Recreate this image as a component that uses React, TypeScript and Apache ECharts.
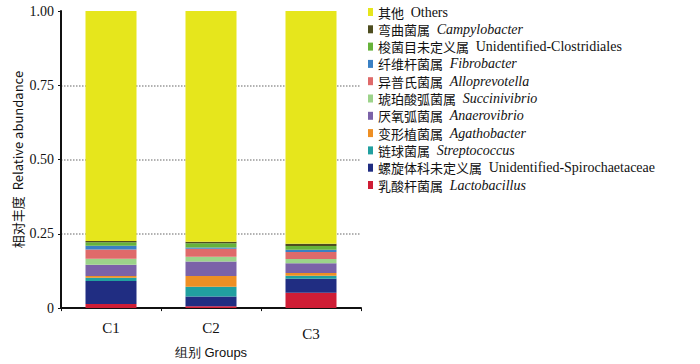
import React, { useEffect, useRef } from "react";
import * as echarts from "echarts";

const groups = ["C1", "C2", "C3"];

// bottom-to-top stacking order
const lactobacillus = [0.014, 0.006, 0.052];
const spirochaetaceae = [0.077, 0.033, 0.047];
const streptococcus = [0.011, 0.033, 0.010];
const agathobacter = [0.006, 0.036, 0.009];
const anaerovibrio = [0.038, 0.049, 0.033];
const succinivibrio = [0.020, 0.016, 0.014];
const alloprevotella = [0.031, 0.027, 0.024];
const fibrobacter = [0.013, 0.004, 0.007];
const clostridiales = [0.012, 0.014, 0.013];
const campylobacter = [0.004, 0.005, 0.008];
const others = [0.774, 0.777, 0.783];

const yTicks = ["0", "0.25", "0.50", "0.75", "1.00"];

type S = { key: string; cn: string; en: string; italic: boolean; color: string; data: number[] };

const seriesDefs: S[] = [
  { key: "Lactobacillus", cn: "乳酸杆菌属", en: "Lactobacillus", italic: true, color: "#cf1d35", data: lactobacillus },
  { key: "Spirochaetaceae", cn: "螺旋体科未定义属", en: "Unidentified-Spirochaetaceae", italic: false, color: "#202d82", data: spirochaetaceae },
  { key: "Streptococcus", cn: "链球菌属", en: "Streptococcus", italic: true, color: "#21a0a0", data: streptococcus },
  { key: "Agathobacter", cn: "变形植菌属", en: "Agathobacter", italic: true, color: "#ee8f24", data: agathobacter },
  { key: "Anaerovibrio", cn: "厌氧弧菌属", en: "Anaerovibrio", italic: true, color: "#7b62a8", data: anaerovibrio },
  { key: "Succinivibrio", cn: "琥珀酸弧菌属", en: "Succinivibrio", italic: true, color: "#9cd38a", data: succinivibrio },
  { key: "Alloprevotella", cn: "异普氏菌属", en: "Alloprevotella", italic: true, color: "#df6a6a", data: alloprevotella },
  { key: "Fibrobacter", cn: "纤维杆菌属", en: "Fibrobacter", italic: true, color: "#3a80c4", data: fibrobacter },
  { key: "Clostridiales", cn: "梭菌目未定义属", en: "Unidentified-Clostridiales", italic: false, color: "#66b33a", data: clostridiales },
  { key: "Campylobacter", cn: "弯曲菌属", en: "Campylobacter", italic: true, color: "#4d4d1f", data: campylobacter },
  { key: "Others", cn: "其他", en: "Others", italic: false, color: "#e6e61c", data: others },
];

const SERIF = "Liberation Serif";
const CJK = "Noto Sans CJK SC";

export default function App() {
  const ref = useRef<HTMLDivElement>(null);
  useEffect(() => {
    if (!ref.current) return;
    const chart = echarts.init(ref.current, null, { renderer: "svg" });
    const byKey: Record<string, S> = {};
    seriesDefs.forEach((s) => (byKey[s.key] = s));
    chart.setOption({
      animation: false,
      backgroundColor: "#ffffff",
      grid: { left: 61, right: 339, top: 11, bottom: 48, containLabel: false },
      legend: {
        orient: "vertical",
        left: 368,
        top: 5,
        padding: 0,
        itemWidth: 5,
        itemHeight: 8,
        itemGap: 3.3,
        icon: "rect",
        selectedMode: false,
        data: seriesDefs.map((s) => s.key).reverse(),
        formatter: (name: string) => {
          const s = byKey[name];
          return `{cn|${s.cn}}  {${s.italic ? "it" : "en"}|${s.en}}`;
        },
        textStyle: {
          color: "#111",
          rich: {
            cn: { fontFamily: CJK, fontSize: 13, lineHeight: 14, color: "#111" },
            it: { fontFamily: SERIF, fontSize: 14, fontStyle: "italic", lineHeight: 14, color: "#111" },
            en: { fontFamily: SERIF, fontSize: 14, lineHeight: 14, color: "#111" },
          },
        },
      },
      xAxis: {
        type: "category",
        data: groups.map((g, i) =>
          i === 2 ? { value: g, textStyle: { padding: [6, 0, 0, 0] } } : g
        ),
        name: "组别 Groups",
        nameLocation: "middle",
        nameGap: 31,
        nameTextStyle: {
          fontSize: 13,
          color: "#111",
          rich: {},
        },
        axisLine: { lineStyle: { color: "#111", width: 2 } },
        axisTick: { show: true, length: 3, lineStyle: { color: "#111" } },
        axisLabel: { fontFamily: SERIF, fontSize: 15, color: "#111", margin: 12 },
      },
      yAxis: {
        type: "value",
        min: 0,
        max: 1,
        interval: 0.25,
        name: "相对丰度  Relative abundance",
        nameLocation: "middle",
        nameGap: 37,
        nameTextStyle: { fontFamily: CJK, fontSize: 13, color: "#111" },
        axisLine: { show: true, lineStyle: { color: "#111", width: 2 } },
        axisTick: { show: true, length: 3, lineStyle: { color: "#111" } },
        axisLabel: {
          fontFamily: SERIF,
          fontSize: 14,
          color: "#111",
          margin: 7,
          formatter: (v: number) => yTicks[Math.round(v / 0.25)],
        },
        splitLine: {
          show: true,
          lineStyle: {
            type: "dotted",
            width: 1.5,
            color: ["rgba(0,0,0,0)", "#999", "#999", "#999", "rgba(0,0,0,0)"],
          },
        },
      },
      series: seriesDefs.map((s) => ({
        name: s.key,
        type: "bar",
        stack: "total",
        barWidth: 51,
        itemStyle: { color: s.color },
        data: s.data,
      })),
    });
    return () => chart.dispose();
  }, []);
  return (
    <div
      ref={ref}
      style={{ position: "fixed", left: 0, top: 0, width: 700, height: 364 }}
    />
  );
}
